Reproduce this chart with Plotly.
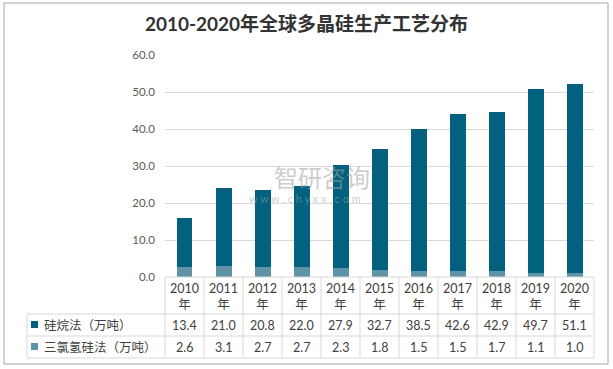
import plotly.graph_objects as go

years = ['2010', '2011', '2012', '2013', '2014', '2015', '2016', '2017', '2018', '2019', '2020']
year_labels = [y + '<br>年' for y in years]
silane = [13.4, 21.0, 20.8, 22.0, 27.9, 32.7, 38.5, 42.6, 42.9, 49.7, 51.1]
tcs = [2.6, 3.1, 2.7, 2.7, 2.3, 1.8, 1.5, 1.5, 1.7, 1.1, 1.0]
name_silane = '硅烷法（万吨）'
name_tcs = '三氯氢硅法（万吨）'
title = '2010-2020年全球多晶硅生产工艺分布'

DARK = '#02617F'
LIGHT = '#5E93A8'
GRID = '#d9d9d9'
TXT = '#404040'
FONT = 'Lato, Noto Sans CJK SC, sans-serif'

W, H = 613, 369
L, R, T, B = 165, 594, 55, 277


def px(X):
    return (X - L) / (R - L)


def py(Y):
    return (B - Y) / (B - T)


fig = go.Figure()
fig.add_bar(x=years, y=tcs, name=name_tcs, marker_color=LIGHT, width=0.41,
            marker_line_width=0)
fig.add_bar(x=years, y=silane, name=name_silane, marker_color=DARK, width=0.41,
            marker_line_width=0)

shapes = []
n = len(years)
colw = (R - L) / n
# horizontal table lines
shapes.append(dict(type='line', xref='paper', yref='paper', x0=px(L), x1=px(R), y0=py(B), y1=py(B),
                   line=dict(color=GRID, width=1)))
for Y in [314, 336, 358]:
    shapes.append(dict(type='line', xref='paper', yref='paper', x0=px(27), x1=px(R), y0=py(Y), y1=py(Y),
                       line=dict(color=GRID, width=1)))
# vertical lines
for i in range(n + 1):
    X = L + i * colw
    shapes.append(dict(type='line', xref='paper', yref='paper', x0=px(X), x1=px(X), y0=py(B), y1=py(358),
                       line=dict(color=GRID, width=1)))
shapes.append(dict(type='line', xref='paper', yref='paper', x0=px(27), x1=px(27), y0=py(314), y1=py(358),
                   line=dict(color=GRID, width=1)))
# legend keys
shapes.append(dict(type='rect', xref='paper', yref='paper', x0=px(31), x1=px(38), y0=py(321), y1=py(328),
                   fillcolor=DARK, line=dict(width=0)))
shapes.append(dict(type='rect', xref='paper', yref='paper', x0=px(31), x1=px(38), y0=py(343), y1=py(350),
                   fillcolor=LIGHT, line=dict(width=0)))
# outer border
shapes.append(dict(type='rect', xref='paper', yref='paper', x0=px(4), x1=px(608), y0=py(364), y1=py(3),
                   line=dict(color='#a6a6a6', width=1), layer='below'))

annotations = []
for i, y in enumerate(years):
    cx = px(L + (i + 0.5) * colw)
    annotations.append(dict(x=cx, xref='paper', y=py(296), yref='paper', text=year_labels[i], showarrow=False,
                            xanchor='center', yanchor='middle',
                            font=dict(size=12.5, color=TXT, family=FONT)))
    annotations.append(dict(x=cx, xref='paper', y=py(325), yref='paper', text=f'{silane[i]:.1f}', showarrow=False,
                            xanchor='center', yanchor='middle',
                            font=dict(size=12.5, color=TXT, family=FONT)))
    annotations.append(dict(x=cx, xref='paper', y=py(347), yref='paper', text=f'{tcs[i]:.1f}', showarrow=False,
                            xanchor='center', yanchor='middle',
                            font=dict(size=12.5, color=TXT, family=FONT)))
annotations.append(dict(x=px(42), xref='paper', y=py(325), yref='paper', text=name_silane, showarrow=False,
                        xanchor='left', yanchor='middle', font=dict(size=12.5, color=TXT, family=FONT)))
annotations.append(dict(x=px(42), xref='paper', y=py(347), yref='paper', text=name_tcs, showarrow=False,
                        xanchor='left', yanchor='middle', font=dict(size=12.5, color=TXT, family=FONT)))
# watermark
annotations.append(dict(x=px(322), xref='paper', y=py(177), yref='paper', text='智研咨询', showarrow=False,
                        xanchor='center', font=dict(size=24, color='rgba(160,160,160,0.55)', family=FONT)))
annotations.append(dict(x=px(305), xref='paper', y=py(198), yref='paper',
                        text='w w w . c h y x x . c o m', showarrow=False, xanchor='center',
                        font=dict(size=11, color='rgba(160,160,160,0.55)', family=FONT)))

fig.update_layout(
    width=W, height=H,
    margin=dict(l=L, r=W - R, t=T, b=H - B, pad=0),
    barmode='stack',
    showlegend=False,
    plot_bgcolor='white', paper_bgcolor='white',
    title=dict(text='<b>' + title + '</b>', x=0.5, xref='container', xanchor='center',
               y=1 - 24 / H, yref='container', yanchor='middle',
               font=dict(size=19, color='#333333', family=FONT)),
    xaxis=dict(range=[-0.5, n - 0.5], showticklabels=False, showgrid=False, zeroline=False,
               showline=False, ticks=''),
    yaxis=dict(range=[0, 60], dtick=10, tickformat='.1f', showgrid=True, gridcolor=GRID, gridwidth=1,
               zeroline=False, showline=False, ticks='', ticklabelstandoff=9,
               tickfont=dict(size=11.5, color='#595959', family=FONT)),
    shapes=shapes,
    annotations=annotations,
)

fig.write_html('out.html', config={'displayModeBar': False},
               post_script="document.body.style.margin='0';")
